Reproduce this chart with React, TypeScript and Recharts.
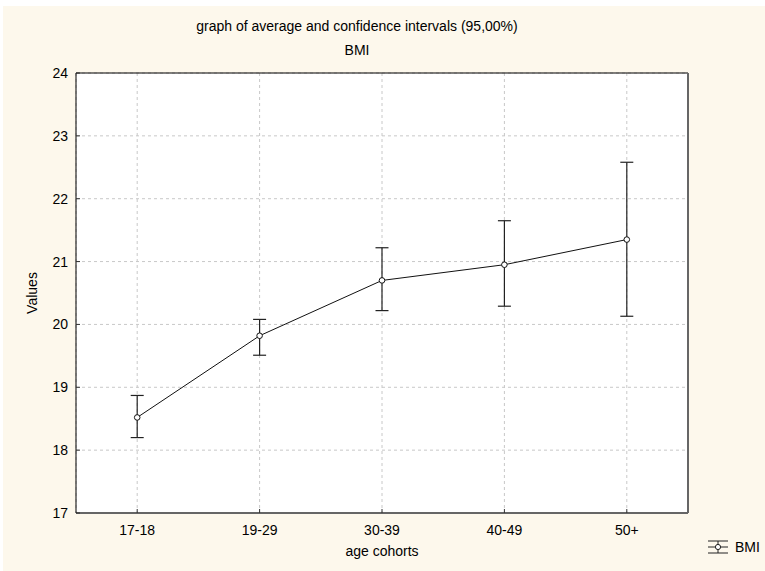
import { ComposedChart, Line, ErrorBar, XAxis, YAxis, CartesianGrid, Legend } from "recharts";

const categories = ["17-18", "19-29", "30-39", "40-49", "50+"];
const means = [18.52, 19.82, 20.7, 20.95, 21.35];
const lower = [18.2, 19.51, 20.22, 20.29, 20.13];
const upper = [18.87, 20.08, 21.22, 21.65, 22.58];
const yTicks = [17, 18, 19, 20, 21, 22, 23, 24];

const data = categories.map((name, i) => ({
  name,
  mean: means[i],
  ci: [means[i] - lower[i], upper[i] - means[i]],
}));

const font = "'Liberation Sans', Arial, sans-serif";
const tickStyle = { fill: "#000", fontSize: 14, fontFamily: font };

function LegendBox() {
  return (
    <div style={{ display: "flex", alignItems: "center", fontFamily: font, fontSize: 14, color: "#000" }}>
      <svg width={24} height={16}>
        <line x1={2} y1={2} x2={22} y2={2} stroke="#222" />
        <line x1={2} y1={14} x2={22} y2={14} stroke="#222" />
        <line x1={2} y1={8} x2={22} y2={8} stroke="#222" />
        <line x1={12} y1={2} x2={12} y2={14} stroke="#222" />
        <circle cx={12} cy={8} r={2.6} fill="#fff" stroke="#222" />
      </svg>
      <span style={{ marginLeft: 5 }}>BMI</span>
    </div>
  );
}

export default function App() {
  return (
    <div style={{ position: "absolute", left: 3, top: 6, width: 762, height: 565, background: "#fdf8ec" }}>
      <div style={{ position: "absolute", left: 0, width: 708, top: 13, textAlign: "center", fontFamily: font, fontSize: 14, lineHeight: "14px" }}>
        graph of average and confidence intervals (95,00%)
      </div>
      <div style={{ position: "absolute", left: 0, width: 708, top: 37, textAlign: "center", fontFamily: font, fontSize: 14, lineHeight: "14px" }}>
        BMI
      </div>
      <div
        style={{
          position: "absolute",
          left: 29,
          top: 287,
          transform: "translate(-50%, -50%) rotate(-90deg)",
          fontFamily: font,
          fontSize: 14,
          lineHeight: "14px",
          whiteSpace: "nowrap",
        }}
      >
        Values
      </div>
      <ComposedChart width={762} height={565} data={data} margin={{ top: 66, right: 76, left: 0, bottom: 28 }}>
        <CartesianGrid stroke="#c8c8c8" strokeDasharray="3 3" fill="#fff" />
        <XAxis
          dataKey="name"
          scale="band"
          height={30}
          tick={tickStyle}
          tickSize={-4}
          tickMargin={16}
          tickLine={{ stroke: "#333" }}
          axisLine={{ stroke: "#666", strokeWidth: 2 }}
          label={{ value: "age cohorts", position: "bottom", offset: 3, style: tickStyle }}
        />
        <XAxis
          xAxisId="top"
          orientation="top"
          dataKey="name"
          scale="band"
          height={1}
          tick={false}
          tickSize={-4}
          axisLine={{ stroke: "#000" }}
        />
        <YAxis
          width={73}
          type="number"
          domain={[17, 24]}
          ticks={yTicks}
          interval={0}
          tick={tickStyle}
          tickSize={-4}
          tickMargin={12}
          tickLine={{ stroke: "#333" }}
          axisLine={{ stroke: "#000" }}
        />
        <YAxis
          yAxisId="right"
          orientation="right"
          width={1}
          type="number"
          domain={[17, 24]}
          ticks={yTicks}
          tick={false}
          tickSize={-4}
          axisLine={{ stroke: "#666", strokeWidth: 2 }}
        />
        <Legend
          layout="horizontal"
          verticalAlign="middle"
          align="center"
          content={() => <LegendBox />}
          wrapperStyle={{ left: 703, top: 533, width: "auto", height: "auto" }}
        />
        <Line
          type="linear"
          dataKey="mean"
          name="BMI"
          stroke="#111"
          strokeWidth={1}
          dot={{ r: 2.8, fill: "#fff", stroke: "#111", strokeWidth: 1 }}
          activeDot={false}
          isAnimationActive={false}
        >
          <ErrorBar dataKey="ci" direction="y" width={6.5} stroke="#222" strokeWidth={1.2} isAnimationActive={false} />
        </Line>
      </ComposedChart>
    </div>
  );
}
